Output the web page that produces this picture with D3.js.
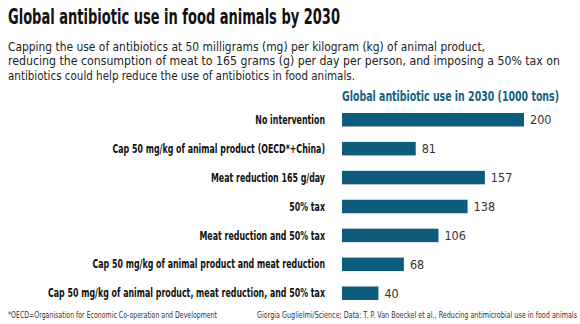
<!DOCTYPE html>
<html>
<head>
<meta charset="utf-8">
<script src="https://cdn.jsdelivr.net/npm/d3@7"></script>
<style>
  body { margin: 0; background: #fff; }
  svg { display: block; }
  text { font-family: "Liberation Sans Narrow", "DejaVu Sans Condensed", sans-serif; }
</style>
</head>
<body>
<div id="wrapper"></div>
<script>
const scenarios = [
  "No intervention",
  "Cap 50 mg/kg of animal product (OECD*+China)",
  "Meat reduction 165 g/day",
  "50% tax",
  "Meat reduction and 50% tax",
  "Cap 50 mg/kg of animal product and meat reduction",
  "Cap 50 mg/kg of animal product, meat reduction, and 50% tax"
]
const usage = [200, 81, 157, 138, 106, 68, 40]

const titleText = "Global antibiotic use in food animals by 2030"
const subtitleLines = [
  "Capping the use of antibiotics at 50 milligrams (mg) per kilogram (kg) of animal product,",
  "reducing the consumption of meat to 165 grams (g) per day per person, and imposing a 50% tax on",
  "antibiotics could help reduce the use of antibiotics in food animals."
]
const axisTitle = "Global antibiotic use in 2030 (1000 tons)"
const footnote = "*OECD=Organisation for Economic Co-operation and Development"
const credit = "Giorgia Guglielmi/Science; Data: T. P. Van Boeckel et al., Reducing antimicrobial use in food animals"

const width = 580
const height = 324
const margin = { top: 106, left: 342, right: 56, bottom: 17 }
const boundedWidth = width - margin.left - margin.right
const boundedHeight = height - margin.top - margin.bottom

const svg = d3.select("#wrapper")
  .append("svg")
    .attr("width", width)
    .attr("height", height)

// squeeze a text to a given width, the installed fonts are wider than the original
function fitWidth(sel, w) {
  if (sel.node().getComputedTextLength() > 0) {
    sel.attr("textLength", w).attr("lengthAdjust", "spacingAndGlyphs")
  }
}

const title = svg.append("text")
    .attr("x", 8)
    .attr("y", 23.5)
    .text(titleText)
    .style("font-size", "21.5px")
    .style("font-weight", "bold")
    .attr("fill", "#111")
fitWidth(title, 332)

const subWidths = [477, 552, 347]
subtitleLines.forEach((line, i) => {
  const t = svg.append("text")
      .attr("x", 8)
      .attr("y", 50.5 + i * 14.6)
      .text(line)
      .style("font-size", "13px")
      .attr("fill", "#222")
  fitWidth(t, subWidths[i])
})

const bounds = svg.append("g")
  .attr("transform", `translate(${margin.left},${margin.top})`)

const xScale = d3.scaleLinear()
  .domain([0, 200])
  .range([0, 182])

const yScale = d3.scaleBand()
  .domain(scenarios)
  .range([0, boundedHeight])
  .paddingInner(0.533)
  .paddingOuter(0.242)

const axisLabel = bounds.append("text")
    .attr("x", 0)
    .attr("y", -5)
    .text(axisTitle)
    .style("font-size", "13.5px")
    .style("font-weight", "bold")
    .attr("fill", "#14607f")
fitWidth(axisLabel, 217)

bounds.selectAll("rect")
  .data(usage)
  .join("rect")
    .attr("x", 0)
    .attr("y", (d, i) => yScale(scenarios[i]))
    .attr("width", d => xScale(d))
    .attr("height", yScale.bandwidth())
    .attr("fill", "#0f5b7b")

bounds.selectAll(".value")
  .data(usage)
  .join("text")
    .attr("class", "value")
    .attr("x", d => xScale(d) + 6)
    .attr("y", (d, i) => yScale(scenarios[i]) + yScale.bandwidth() / 2)
    .attr("dy", "0.36em")
    .text(d => d)
    .style("font-size", "12.5px")
    .attr("fill", "#333")

const labels = bounds.selectAll(".label")
  .data(scenarios)
  .join("text")
    .attr("class", "label")
    .attr("x", -17)
    .attr("y", d => yScale(d) + yScale.bandwidth() / 2)
    .attr("dy", "0.36em")
    .attr("text-anchor", "end")
    .text(d => d)
    .style("font-size", "11.5px")
    .style("font-weight", "bold")
    .attr("fill", "#111")

// one common squeeze ratio so the longest label spans like the original
const longest = d3.max(labels.nodes(), n => n.getComputedTextLength())
const ratio = longest > 0 ? 277 / longest : 1
labels.each(function () {
  const len = this.getComputedTextLength()
  d3.select(this).attr("textLength", len * ratio).attr("lengthAdjust", "spacingAndGlyphs")
})

const foot = svg.append("text")
    .attr("x", 8)
    .attr("y", 318)
    .text(footnote)
    .style("font-size", "8px")
    .attr("fill", "#333")
fitWidth(foot, 209)

const cred = svg.append("text")
    .attr("x", 257)
    .attr("y", 318)
    .text(credit)
    .style("font-size", "8px")
    .attr("fill", "#333")
fitWidth(cred, 320)
</script>
</body>
</html>
